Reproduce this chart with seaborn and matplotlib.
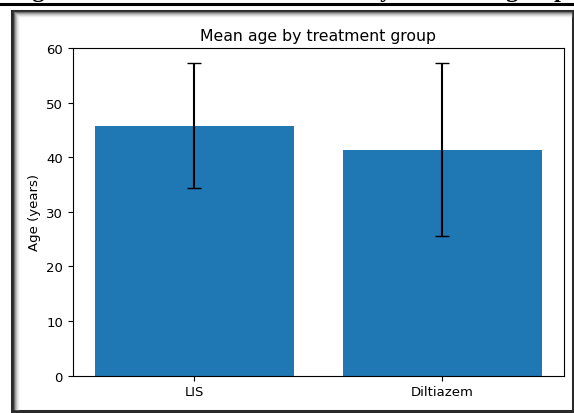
import matplotlib
matplotlib.use("Agg")
import matplotlib.pyplot as plt
from matplotlib.patches import Rectangle
import seaborn as sns
import pandas as pd

# values
groups = ["LIS", "Diltiazem"]
mean_age = [45.8, 41.4]
sd_age = [11.5, 15.9]

df = pd.DataFrame({"group": groups, "age": mean_age, "sd": sd_age})

W, H = 574, 414
fig = plt.figure(figsize=(W / 100, H / 100), dpi=100)

# page elements around the embedded figure: clipped caption, rule and frame
fig.text(11 / W, 1 + 3 / H, "Figure 1: Mean Baseline Statistics by treatment group",
         family="Liberation Serif", fontweight="bold", fontsize=17.4,
         ha="left", va="baseline")
fig.add_artist(plt.Line2D([0.0, 1.0], [1 - 5 / H, 1 - 5 / H], color="black", lw=2.2))
fig.add_artist(Rectangle((12 / W, 2 / H), 561 / W, 400 / H,
                         transform=fig.transFigure, fill=False,
                         edgecolor="#2a2a2a", lw=2.2))
for i, g in enumerate(["#666666", "#999999", "#bbbbbb", "#d6d6d6", "#ebebeb"]):
    fig.add_artist(plt.Line2D([(14 + i) / W, 571 / W],
                              [1 - (13 + i) / H, 1 - (13 + i) / H],
                              color=g, lw=1))
    fig.add_artist(plt.Line2D([(14 + i) / W, (14 + i) / W],
                              [4 / H, 1 - (13 + i) / H],
                              color=g, lw=1))

ax = fig.add_axes([72.7 / W, 1 - 376.7 / H, (564 - 72.7) / W, (376.7 - 49) / H])
sns.barplot(data=df, x="group", y="age", color="#1f77b4", saturation=1,
            errorbar=None, width=0.8, ax=ax)
ax.errorbar(range(len(groups)), df["age"], yerr=df["sd"], fmt="none",
            ecolor="black", capsize=5, elinewidth=1.5)

ax.set_xlim(-0.49, 1.49)
ax.set_ylim(0, 60)
ax.set_title("Mean age by treatment group", fontsize=11.3)
ax.set_ylabel("Age (years)", fontsize=9.5)
ax.set_xlabel("")
ax.tick_params(labelsize=9.5)

fig.savefig("out.png", dpi=100)
